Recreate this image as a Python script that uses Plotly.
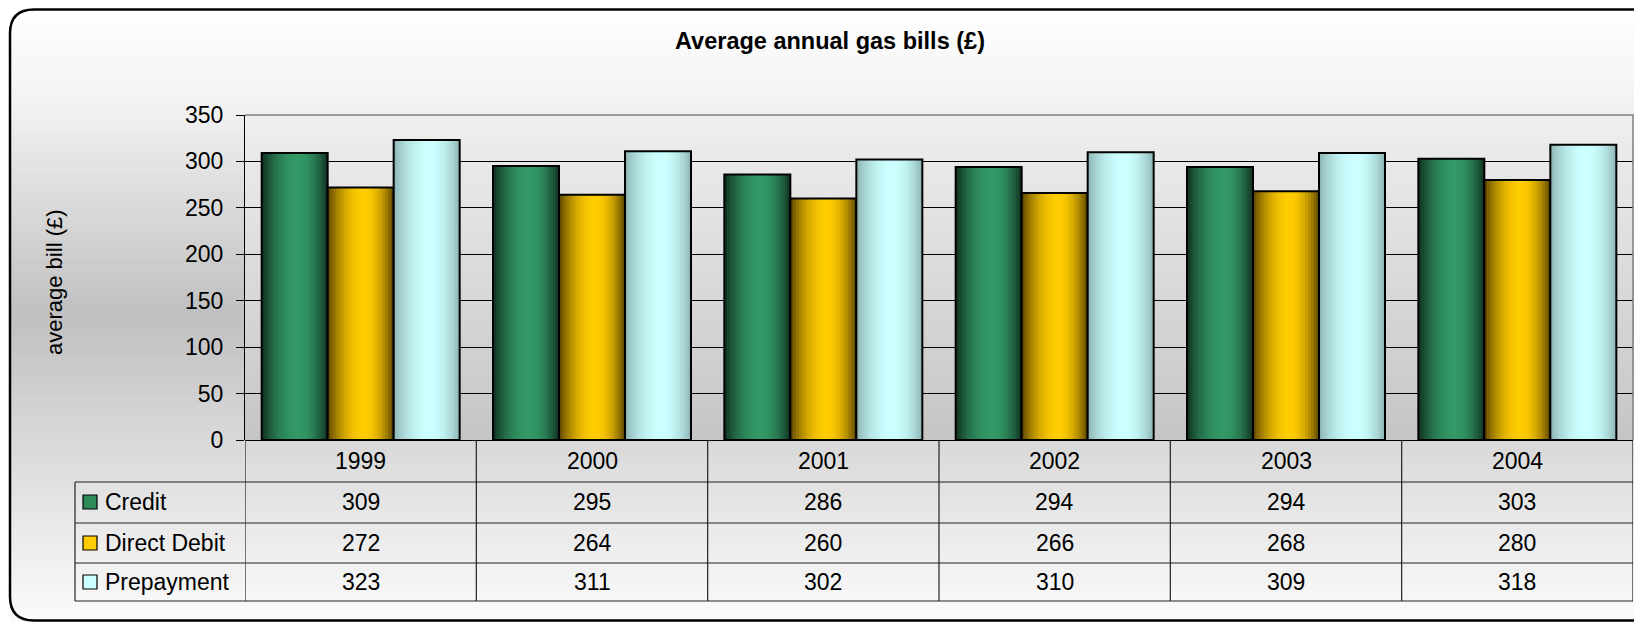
import plotly.graph_objects as go
import math

# ---------------- data ----------------
years = ["1999", "2000", "2001", "2002", "2003", "2004"]
series_names = ["Credit", "Direct Debit", "Prepayment"]
credit = [309, 295, 286, 294, 294, 303]
direct_debit = [272, 264, 260, 266, 268, 280]
prepayment = [323, 311, 302, 310, 309, 318]
y_ticks = [0, 50, 100, 150, 200, 250, 300, 350]
title_text = "Average annual gas bills (£)"
y_title = "average bill (£)"

series_values = [credit, direct_debit, prepayment]

# ---------------- styles ----------------
base_colors = [(51, 153, 102), (255, 204, 0), (204, 255, 255)]
edge_colors = [(14, 42, 28), (84, 62, 0), (138, 176, 176)]
key_colors = ["#2E8B57", "#FFCC00", "#CCFFFF"]
FONT = "Liberation Sans, Arial, sans-serif"
FS = 23
FS_TITLE = 23.5
FS_YT = 22

W, H = 1634, 622
L, R, T, B = 245, 1633, 115, 440


def X(px):
    return (px - L) / (R - L)


def Y(py):
    return (B - py) / (B - T)


def lerp_stops(stops, t):
    for (t0, v0), (t1, v1) in zip(stops[:-1], stops[1:]):
        if t0 <= t <= t1:
            return v0 + (v1 - v0) * (t - t0) / (t1 - t0)
    return stops[-1][1]


def profile(t, peak=0.55):
    if t < peak:
        f = math.sin(math.pi / 2 * t / peak)
    else:
        f = math.sin(math.pi / 2 * (1 - t) / (1 - peak))
    return f ** 0.8


fig = go.Figure()

xs = list(range(len(years)))
bar_w = 66 / ((R - L) / len(years))
group_start = -1.5 * bar_w
K = 24

for s, vals in enumerate(series_values):
    off = group_start + s * bar_w
    bc, ec = base_colors[s], edge_colors[s]
    for k in range(K):
        t = (k + 0.5) / K
        f = profile(t)
        c = tuple(int(round(ec[i] + (bc[i] - ec[i]) * f)) for i in range(3))
        fig.add_trace(go.Bar(
            x=xs, y=vals, width=bar_w * (1 - k / K), offset=off + k * bar_w / K,
            marker=dict(color="rgb(%d,%d,%d)" % c, line=dict(width=0)),
            showlegend=False, hoverinfo="skip"))
    fig.add_trace(go.Bar(
        x=xs, y=vals, width=bar_w, offset=off, name=series_names[s],
        marker=dict(color="rgba(0,0,0,0)", line=dict(color="black", width=2)),
        showlegend=False))

shapes = []
# outer background gradient
outer_stops = [(0, 255), (0.15, 243), (0.5, 192), (0.8, 228), (1.0, 251)]
y0, y1 = 9, 621
N = 90
for i in range(N):
    a = y0 + (y1 - y0) * i / N
    b = y0 + (y1 - y0) * (i + 1) / N
    v = int(round(lerp_stops(outer_stops, (i + 0.5) / N)))
    shapes.append(dict(type="rect", xref="paper", yref="paper", layer="below",
                       x0=X(10), x1=X(1640), y0=Y(a), y1=Y(b + 0.8),
                       fillcolor="rgb(%d,%d,%d)" % (v, v, v), line=dict(width=0)))
# plot area gradient
N2 = 60
for i in range(N2):
    a = T + (B - T) * i / N2
    b = T + (B - T) * (i + 1) / N2
    v = int(round(lerp_stops([(0, 239), (1, 197)], (i + 0.5) / N2)))
    shapes.append(dict(type="rect", xref="paper", yref="paper", layer="below",
                       x0=0, x1=1, y0=Y(a), y1=Y(min(b + 0.8, B)),
                       fillcolor="rgb(%d,%d,%d)" % (v, v, v), line=dict(width=0)))

# plot area border (top / right)
shapes.append(dict(type="path", xref="paper", yref="paper", layer="above",
                   path=f"M {X(245)},{Y(115)} L {X(1633)},{Y(115)} L {X(1633)},{Y(440)}",
                   line=dict(color="#808080", width=1.5)))

# table lines
row_lines = [482, 523, 563, 601]
for ry in row_lines:
    shapes.append(dict(type="line", xref="paper", yref="paper", layer="above",
                       x0=X(75), x1=X(1633), y0=Y(ry), y1=Y(ry),
                       line=dict(color="#222222", width=1.2)))
shapes.append(dict(type="line", xref="paper", yref="paper", layer="above",
                   x0=X(75), x1=X(75), y0=Y(482), y1=Y(601),
                   line=dict(color="#222222", width=1.2)))
for k in range(len(years) + 1):
    shapes.append(dict(type="line", xref="x", yref="paper", layer="above",
                       x0=k - 0.5, x1=k - 0.5, y0=Y(440), y1=Y(601),
                       line=dict(color="#222222", width=1.2)))

# legend keys
row_centers = [502, 543, 582]
for s in range(3):
    cy = row_centers[s]
    shapes.append(dict(type="rect", xref="paper", yref="paper", layer="above",
                       x0=X(83), x1=X(97), y0=Y(cy - 7), y1=Y(cy + 7),
                       fillcolor=key_colors[s], line=dict(color="black", width=1.2)))

# outer rounded border
r = 24
bt, bb, bl = 9.5, 620.5, 10
shapes.append(dict(type="path", xref="paper", yref="paper", layer="above",
                   path=(f"M {X(1645)},{Y(bt)} L {X(bl + r)},{Y(bt)} "
                         f"Q {X(bl)},{Y(bt)} {X(bl)},{Y(bt + r)} "
                         f"L {X(bl)},{Y(bb - r)} Q {X(bl)},{Y(bb)} {X(bl + r)},{Y(bb)} "
                         f"L {X(1645)},{Y(bb)}"),
                   line=dict(color="black", width=2.5)))

annotations = []
annotations.append(dict(text="<b>%s</b>" % title_text, xref="paper", yref="paper",
                        x=X(830), y=Y(41), xanchor="center", yanchor="middle",
                        showarrow=False, font=dict(size=FS_TITLE, color="black", family=FONT)))
annotations.append(dict(text=y_title, xref="paper", yref="paper", textangle=-90,
                        x=X(54), y=Y(282), xanchor="center", yanchor="middle",
                        showarrow=False, font=dict(size=FS_YT, color="black", family=FONT)))
for i, yr in enumerate(years):
    annotations.append(dict(text=yr, xref="x", yref="paper", x=i, y=Y(461),
                            xanchor="center", yanchor="middle", showarrow=False,
                            font=dict(size=FS, color="black", family=FONT)))
for s in range(3):
    annotations.append(dict(text=series_names[s], xref="paper", yref="paper",
                            x=X(103), y=Y(row_centers[s]), xanchor="left", yanchor="middle",
                            showarrow=False, font=dict(size=FS, color="black", family=FONT)))
    for i, v in enumerate(series_values[s]):
        annotations.append(dict(text=str(v), xref="x", yref="paper", x=i,
                                y=Y(row_centers[s]), xanchor="center", yanchor="middle",
                                showarrow=False,
                                font=dict(size=FS, color="black", family=FONT)))

fig.update_layout(
    width=W, height=H, autosize=False,
    margin=dict(l=L, r=W - R, t=T, b=H - B, pad=0),
    paper_bgcolor="white", plot_bgcolor="rgba(0,0,0,0)",
    barmode="overlay", showlegend=False,
    shapes=shapes, annotations=annotations,
    font=dict(family=FONT, size=FS, color="black"),
    xaxis=dict(range=[-0.5, len(years) - 0.5], showticklabels=False, ticks="",
               showgrid=False, zeroline=False, showline=False, fixedrange=True),
    yaxis=dict(range=[0, 350], tickvals=y_ticks, ticks="outside", ticklen=8,
               tickcolor="black", tickwidth=1, showgrid=True, gridcolor="black",
               gridwidth=1, zeroline=True, zerolinecolor="black", zerolinewidth=1.2,
               showline=True, linecolor="black", linewidth=1.2,
               tickfont=dict(size=FS, color="black", family=FONT),
               ticklabelstandoff=8, fixedrange=True),
)

fig.write_html("out.html")
